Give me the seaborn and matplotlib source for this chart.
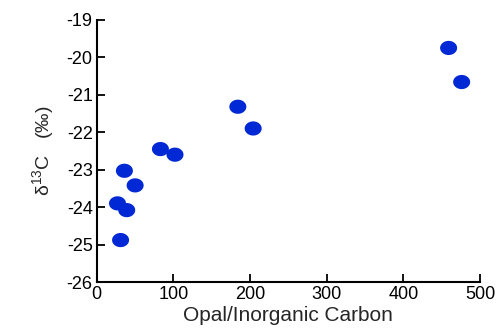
#!/usr/bin/env python3
"""Scatter of d13C against opal/inorganic carbon ratio"""
import numpy as np
import seaborn as sns
from matplotlib import pyplot as plt
from matplotlib.path import Path

sns.set_style("ticks")
plt.rcParams['font.family'] = ['Liberation Sans', 'DejaVu Sans']
plt.rcParams['axes.unicode_minus'] = False

opal_ratio = [459, 476, 184, 204, 83, 102, 36, 50, 27, 39, 31]
d13c = [-19.75, -20.66, -21.32, -21.9, -22.45, -22.6, -23.03, -23.42, -23.9, -24.08, -24.88]

# slightly flattened dot like the original
t = np.linspace(0, 2 * np.pi, 60)
ellipse = Path(np.column_stack([1.2 * np.cos(t), np.sin(t)]), closed=True)

fig = plt.figure(figsize=(4.99, 3.31), dpi=100)
ax = fig.add_axes([0.194, 0.148, 0.768, 0.792])
sns.scatterplot(x=opal_ratio, y=d13c, ax=ax, marker=ellipse, s=150,
                color="#0028d4", edgecolor="none", linewidth=0)

ax.set_xlim(0, 500)
ax.set_ylim(-26, -19)
ax.set_xticks(range(0, 501, 100))
ax.set_yticks(range(-26, -18))
ax.tick_params(direction="in", length=6, width=1.3, labelsize=13,
               colors="black", pad=3)
for side in ("left", "bottom"):
    ax.spines[side].set_linewidth(1.5)
    ax.spines[side].set_color("black")
sns.despine(ax=ax)

ax.set_xlabel("Opal/Inorganic Carbon", fontsize=15, labelpad=2)
ax.set_ylabel(r"$\mathregular{\delta^{13}C}$   (‰)", fontsize=14, labelpad=8)

fig.savefig("out.png", dpi=100)
